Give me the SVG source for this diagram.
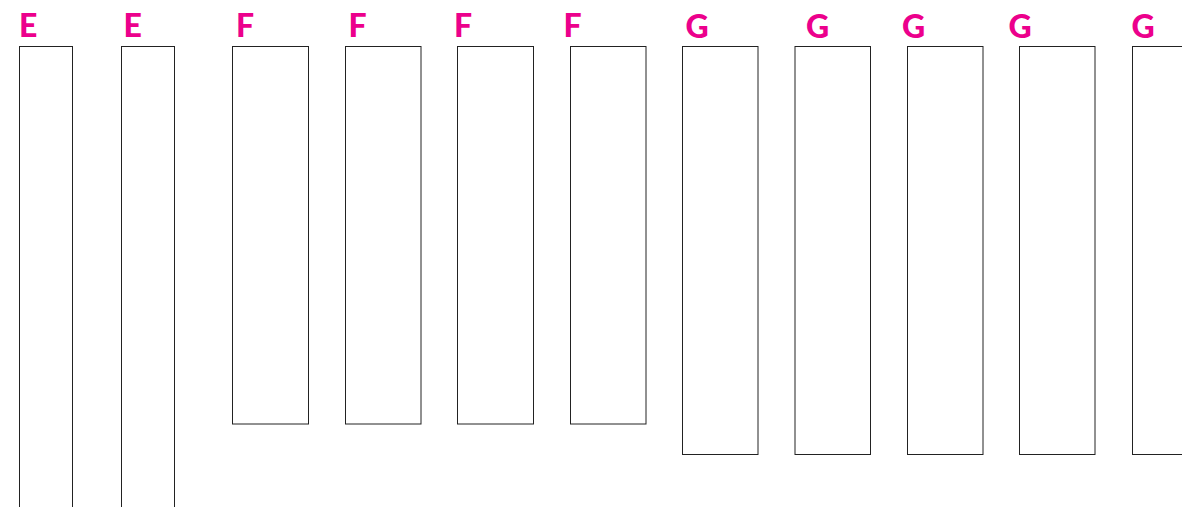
<svg xmlns="http://www.w3.org/2000/svg" width="1182" height="507" viewBox="0 0 1182 507">
<style>
.lbl{font-family:Lato,"Open Sans","Liberation Sans",sans-serif;font-weight:900;font-size:32px;fill:#EC008C}
.box{fill:#fff;stroke:#222;stroke-width:1}
</style>
<rect width="1182" height="507" fill="#fff"/>
<g id="e1"><rect class="box" x="19.5" y="46.5" width="53" height="470"/><text class="lbl" x="19" y="37">E</text></g>
<g id="e2"><rect class="box" x="121.5" y="46.5" width="53" height="470"/><text class="lbl" x="123.5" y="37">E</text></g>
<g id="f1"><rect class="box" x="232.5" y="46.5" width="76" height="377.5"/><text class="lbl" x="236" y="37">F</text></g>
<g id="f2"><rect class="box" x="345.5" y="46.5" width="75.5" height="377.5"/><text class="lbl" x="348.5" y="37">F</text></g>
<g id="f3"><rect class="box" x="457.5" y="46.5" width="76" height="377.5"/><text class="lbl" x="454" y="37">F</text></g>
<g id="f4"><rect class="box" x="570.5" y="46.5" width="75.5" height="377.5"/><text class="lbl" x="563.5" y="37">F</text></g>
<g id="g1"><rect class="box" x="682.5" y="46.5" width="75.5" height="408"/><text class="lbl" x="685.5" y="37.5">G</text></g>
<g id="g2"><rect class="box" x="795" y="46.5" width="75.5" height="408"/><text class="lbl" x="806" y="37.5">G</text></g>
<g id="g3"><rect class="box" x="907.5" y="46.5" width="75.5" height="408"/><text class="lbl" x="902" y="37.5">G</text></g>
<g id="g4"><rect class="box" x="1019.5" y="46.5" width="75.5" height="408"/><text class="lbl" x="1008.5" y="37.5">G</text></g>
<g id="g5"><rect class="box" x="1132.5" y="46.5" width="75.5" height="408"/><text class="lbl" x="1131.5" y="37.5">G</text></g>
<g id="connectors"></g>
</svg>
